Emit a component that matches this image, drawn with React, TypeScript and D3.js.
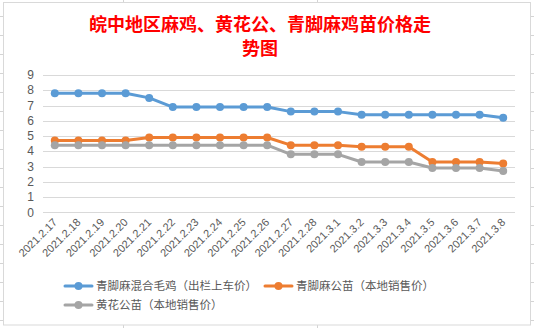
import React from "react";
import * as d3 from "d3";

const categories = ["2021.2.17","2021.2.18","2021.2.19","2021.2.20","2021.2.21","2021.2.22","2021.2.23","2021.2.24","2021.2.25","2021.2.26","2021.2.27","2021.2.28","2021.3.1","2021.3.2","2021.3.3","2021.3.4","2021.3.5","2021.3.6","2021.3.7","2021.3.8"];
const blueValues = [7.8,7.8,7.8,7.8,7.5,6.9,6.9,6.9,6.9,6.9,6.6,6.6,6.6,6.4,6.4,6.4,6.4,6.4,6.4,6.2];
const orangeValues = [4.7,4.7,4.7,4.7,4.9,4.9,4.9,4.9,4.9,4.9,4.4,4.4,4.4,4.3,4.3,4.3,3.3,3.3,3.3,3.2];
const grayValues = [4.4,4.4,4.4,4.4,4.4,4.4,4.4,4.4,4.4,4.4,3.8,3.8,3.8,3.3,3.3,3.3,2.9,2.9,2.9,2.7];
const seriesNames = ["青脚麻混合毛鸡（出栏上车价）","青脚麻公苗（本地销售价）","黄花公苗（本地销售价）"];
const seriesColors = ["#5B9BD5","#ED7D31","#A5A5A5"];
const yTicks = [0,1,2,3,4,5,6,7,8,9];
const titleLines = ["皖中地区麻鸡、黄花公、青脚麻鸡苗价格走","势图"];

const W = 534, H = 328;
const cjk = "'Noto Sans CJK SC', 'Noto Sans', sans-serif";
const latin = "'Liberation Sans', 'DejaVu Sans', sans-serif";

export default function App() {
  const x = d3.scaleBand<string>().domain(categories).range([43, 515]);
  const y = d3.scaleLinear().domain([0, 9]).range([212.3, 75]);
  const cx = (c: string) => (x(c) as number) + x.bandwidth() / 2;
  const allSeries = [blueValues, orangeValues, grayValues];
  const line = d3.line<number>().x((_, i) => cx(categories[i])).y((v) => y(v));

  const sheetRows = d3.range(0, 18).map((k) => 16 + 19 * k);
  const sheetCols = [123, 317];

  const legendItems = [
    { x: 65, y: 286, i: 0 },
    { x: 265, y: 286, i: 1 },
    { x: 65, y: 305, i: 2 },
  ];

  return (
    <svg width={W} height={H} style={{ position: "fixed", left: 0, top: 0, background: "#fff" }}>
      {sheetRows.map((r) => (
        <line key={"r" + r} x1={0} x2={W} y1={r + 0.5} y2={r + 0.5} stroke="#d4d4d4" />
      ))}
      {sheetCols.map((c) => (
        <line key={"c" + c} x1={c + 0.5} x2={c + 0.5} y1={0} y2={H} stroke="#d4d4d4" />
      ))}
      <rect x={3.5} y={2.5} width={527} height={322.5} fill="#fff" stroke="#d9d9d9" />

      {titleLines.map((t, i) => (
        <text key={i} x={260} y={31 + i * 23.5} textAnchor="middle" fill="#FF0000"
          fontFamily={cjk} fontSize={18} fontWeight={700}>{t}</text>
      ))}

      {yTicks.map((t) => (
        <line key={"g" + t} x1={43} x2={515} y1={Math.round(y(t)) + 0.5} y2={Math.round(y(t)) + 0.5}
          stroke="#d9d9d9" strokeWidth={1} />
      ))}
      {yTicks.map((t) => (
        <text key={"yt" + t} x={34} y={y(t)} dy="0.35em" textAnchor="end" fill="#595959"
          fontFamily={latin} fontSize={12}>{t}</text>
      ))}

      {categories.map((c) => (
        <text key={c} transform={`translate(${cx(c) + 3},${223}) rotate(-45)`} textAnchor="end"
          fill="#595959" fontFamily={latin} fontSize={11}>{c}</text>
      ))}

      {allSeries.map((vals, si) => (
        <g key={si}>
          <path d={line(vals) || ""} fill="none" stroke={seriesColors[si]} strokeWidth={3}
            strokeLinejoin="round" strokeLinecap="round" />
          {vals.map((v, i) => (
            <circle key={i} cx={cx(categories[i])} cy={y(v)} r={4} fill={seriesColors[si]} />
          ))}
        </g>
      ))}

      {legendItems.map((l) => (
        <g key={l.i}>
          <line x1={l.x} x2={l.x + 27} y1={l.y} y2={l.y} stroke={seriesColors[l.i]} strokeWidth={3} strokeLinecap="round" />
          <circle cx={l.x + 13.5} cy={l.y} r={4} fill={seriesColors[l.i]} />
          <text x={l.x + 31} y={l.y} dy="0.36em" fill="#595959" fontFamily={cjk} fontSize={11.5}>{seriesNames[l.i]}</text>
        </g>
      ))}
    </svg>
  );
}
